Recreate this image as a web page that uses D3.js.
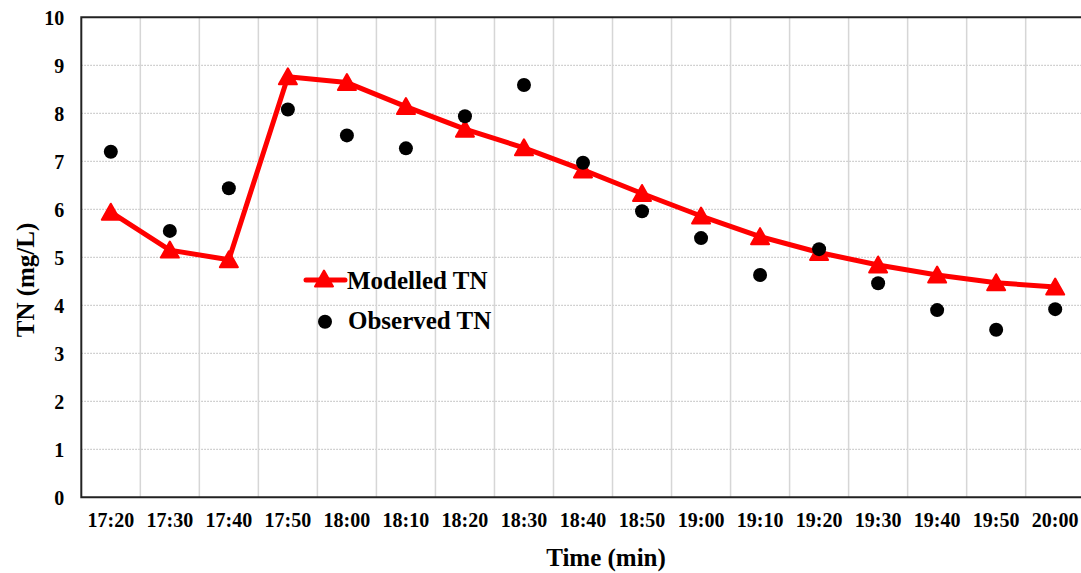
<!DOCTYPE html>
<meta charset="utf-8">
<html>
<head>
  <script src="https://d3js.org/d3.v7.min.js" charset="utf-8"></script>
</head>
<style>
body { margin: 0; background: white; }
text { font-family: "Liberation Serif", "Times New Roman", serif; font-weight: bold; fill: black; }
.tick-label { font-size: 20px; }
.axis-title { font-size: 25px; }
.legend-text { font-size: 25px; }
</style>
<body>
<div id="container"></div>
<script type="text/javascript">

// chart data
var times = ["17:20", "17:30", "17:40", "17:50", "18:00", "18:10", "18:20", "18:30", "18:40",
             "18:50", "19:00", "19:10", "19:20", "19:30", "19:40", "19:50", "20:00"];
var modelledTN = [5.94, 5.15, 4.95, 8.76, 8.64, 8.14, 7.67, 7.28, 6.82,
                  6.33, 5.86, 5.43, 5.10, 4.84, 4.63, 4.47, 4.38];
var observedTN = [7.20, 5.55, 6.44, 8.08, 7.54, 7.27, 7.94, 8.59, 6.97,
                  5.96, 5.40, 4.63, 5.17, 4.46, 3.90, 3.49, 3.92];
var yTicks = [0, 1, 2, 3, 4, 5, 6, 7, 8, 9, 10];

var width = 1081;
var height = 573;
var margin = {left: 81.3, top: 17.3, right: -3.7, bottom: 75.7};

var svg = d3.select("#container")
            .append("svg")
            .attr("width", width)
            .attr("height", height)

var xScale = d3.scaleBand()
               .domain(times)
               .range([margin.left, width - margin.right])
               .padding(0)

var yScale = d3.scaleLinear()
               .domain([0, 10])
               .range([height - margin.bottom, margin.top])

var x0 = margin.left, x1 = width - margin.right;
var y0 = height - margin.bottom, y1 = margin.top;
var cx = (d) => xScale(d) + xScale.bandwidth() / 2;

// horizontal dotted gridlines
svg.append("g")
   .selectAll("line")
   .data(yTicks.filter((d) => d > 0 && d < 10))
   .enter()
   .append("line")
   .attr("x1", x0).attr("x2", x1)
   .attr("y1", (d) => yScale(d)).attr("y2", (d) => yScale(d))
   .attr("stroke", "#c4c4c4")
   .attr("stroke-width", 1.2)
   .attr("stroke-dasharray", "1.5,1.5")

// vertical gridlines at category boundaries
svg.append("g")
   .selectAll("line")
   .data(times.slice(1))
   .enter()
   .append("line")
   .attr("x1", (d) => xScale(d)).attr("x2", (d) => xScale(d))
   .attr("y1", y1).attr("y2", y0)
   .attr("stroke", "#d6d6d6")
   .attr("stroke-width", 1.5)

// frame
svg.append("path")
   .attr("d", "M" + x1 + "," + y1 + "H" + x0 + "V" + y0 + "H" + x1)
   .attr("fill", "none")
   .attr("stroke", "#222")
   .attr("stroke-width", 2)

// y axis labels
var yAxis = d3.axisLeft(yScale).tickValues(yTicks).tickSize(0).tickPadding(17);
var gy = svg.append("g")
   .attr("transform", "translate(" + x0 + ",0)")
   .call(yAxis)
gy.select(".domain").remove();
gy.selectAll("text").attr("class", "tick-label").attr("dy", "0.34em");

// x axis labels
var xAxis = d3.axisBottom(xScale).tickSize(0).tickPadding(16);
var gx = svg.append("g")
   .attr("transform", "translate(0," + y0 + ")")
   .call(xAxis)
gx.select(".domain").remove();
gx.selectAll("text").attr("class", "tick-label");

// modelled line
var line = d3.line()
             .x((d, i) => cx(times[i]))
             .y((d) => yScale(d))

svg.append("path")
   .datum(modelledTN)
   .attr("d", line)
   .attr("fill", "none")
   .attr("stroke", "#ff0000")
   .attr("stroke-width", 5)
   .attr("stroke-linejoin", "round")

var tri = "M0,-8.5L9,7.5L-9,7.5Z";

svg.append("g")
   .selectAll("path")
   .data(modelledTN)
   .enter()
   .append("path")
   .attr("d", tri)
   .attr("transform", (d, i) => "translate(" + cx(times[i]) + "," + yScale(d) + ")")
   .attr("fill", "#ff0000")
   .attr("stroke", "#ff0000")
   .attr("stroke-width", 2)
   .attr("stroke-linejoin", "round")

// observed points
svg.append("g")
   .selectAll("circle")
   .data(observedTN)
   .enter()
   .append("circle")
   .attr("cx", (d, i) => cx(times[i]))
   .attr("cy", (d) => yScale(d))
   .attr("r", 7)
   .attr("fill", "black")

// legend
var lg = svg.append("g");
lg.append("line")
  .attr("x1", 306).attr("x2", 345)
  .attr("y1", 280).attr("y2", 280)
  .attr("stroke", "#ff0000").attr("stroke-width", 5).attr("stroke-linecap", "round")
lg.append("path")
  .attr("d", tri)
  .attr("transform", "translate(324,279)")
  .attr("fill", "#ff0000").attr("stroke", "#ff0000").attr("stroke-width", 2)
  .attr("stroke-linejoin", "round")
lg.append("text")
  .attr("class", "legend-text")
  .attr("x", 347).attr("y", 289)
  .text("Modelled TN")
lg.append("circle")
  .attr("cx", 325).attr("cy", 321.7).attr("r", 7).attr("fill", "black")
lg.append("text")
  .attr("class", "legend-text")
  .attr("x", 348).attr("y", 328.5)
  .text("Observed TN")

// axis titles
svg.append("text")
   .attr("class", "axis-title")
   .attr("x", 606)
   .attr("y", 566)
   .attr("text-anchor", "middle")
   .text("Time (min)")

svg.append("text")
   .attr("class", "axis-title")
   .attr("transform", "translate(34,280) rotate(-90)")
   .attr("text-anchor", "middle")
   .text("TN (mg/L)")

</script>
</body>
</html>
